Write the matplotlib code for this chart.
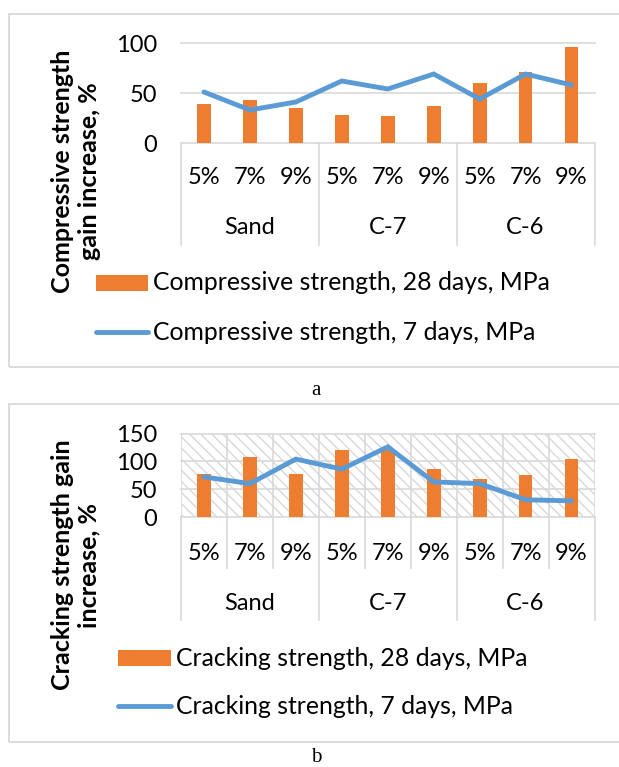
import matplotlib
matplotlib.use('Agg')
import matplotlib.pyplot as plt
from matplotlib.patches import Rectangle
from matplotlib.lines import Line2D

# data
pct_labels = ["5%", "7%", "9%", "5%", "7%", "9%", "5%", "7%", "9%"]
groups = ["Sand", "C-7", "C-6"]

comp_28 = [39, 43, 35, 28, 27, 37, 60, 71, 96]
comp_7 = [51, 33, 41, 62, 54, 69, 44, 69, 58]

crack_28 = [78, 107, 77, 120, 120, 87, 69, 76, 104]
crack_7 = [72, 60, 104, 86, 126, 63, 60, 31, 29]

W, H = 619, 767
ORANGE = "#ED7D31"
BLUE = "#5B9BD5"
GRID = "#d9d9d9"
FONT = "Lato"

plt.rcParams['font.family'] = [FONT, 'DejaVu Sans']

fig = plt.figure(figsize=(W / 100, H / 100), dpi=100)


def box(left, top, right, bottom):
    return [left / W, 1 - bottom / H, (right - left) / W, (bottom - top) / H]


def yfrac(py, top, bottom):
    return (bottom - py) / (bottom - top)


def panel(top, bottom, bars, line, ymax, yticks, hatched,
          pct_y, minor_y, grp_y, sep_y, ylabel, ylab_y,
          frame, leg_y, leg_x, bar_name, line_name):
    left, right = 181, 594.5
    ax = fig.add_axes(box(left, top, right, bottom))
    x = list(range(len(bars)))
    ax.set_xlim(-0.5, 8.5)
    ax.set_ylim(0, ymax)
    for s in ax.spines.values():
        s.set_visible(False)
    ax.set_xticks([])
    ax.set_yticks(yticks)
    ax.set_yticklabels([str(v) for v in yticks])
    ax.tick_params(axis='y', length=0, pad=17, labelsize=17)
    ax.set_facecolor('none')

    if hatched:
        ax.add_patch(Rectangle((0, 0), 1, 1, transform=ax.transAxes,
                               facecolor='white', edgecolor='#d8d8d8',
                               linewidth=0, hatch='\\\\\\', zorder=0))
        for xv in [i - 0.5 for i in range(10)]:
            ax.axvline(xv, color=GRID, lw=1.2, zorder=1)
    for yv in yticks:
        ax.axhline(yv, color=GRID, lw=1.2, zorder=1, clip_on=False)

    ax.bar(x, bars, width=0.3, color=ORANGE, zorder=2)
    ax.plot(x, line, color=BLUE, lw=3.5, solid_capstyle='round',
            solid_joinstyle='miter', zorder=3)

    tr = ax.get_xaxis_transform()
    for i, lab in enumerate(pct_labels):
        ax.text(i, yfrac(pct_y, top, bottom), lab, transform=tr,
                ha='center', va='center', fontsize=17)
    for g, lab in enumerate(groups):
        ax.text(3 * g + 1, yfrac(grp_y, top, bottom), lab, transform=tr,
                ha='center', va='center', fontsize=17)
    for xv in [-0.5, 2.5, 5.5, 8.5]:
        ax.plot([xv, xv], [0, yfrac(sep_y, top, bottom)], transform=tr,
                color=GRID, lw=1.2, clip_on=False)
    if minor_y is not None:
        for xv in [0.5, 1.5, 3.5, 4.5, 6.5, 7.5]:
            ax.plot([xv, xv], [0, yfrac(minor_y, top, bottom)], transform=tr,
                    color=GRID, lw=1.2, clip_on=False)

    fig.text(76 / W, 1 - ylab_y / H, ylabel, rotation=90, ha='center',
             va='center', fontweight='bold', fontsize=18,
             multialignment='center', linespacing=1.2)

    # frame around the chart
    fig.patches.append(Rectangle((9 / W, 1 - frame[1] / H),
                                 (650 - 9) / W, (frame[1] - frame[0]) / H,
                                 transform=fig.transFigure, fill=False,
                                 edgecolor=GRID, lw=1.3))

    # legend
    x0, x1 = leg_x
    fig.patches.append(Rectangle((x0 / W, 1 - (leg_y[0] + 8) / H),
                                 (x1 - x0) / W, 16 / H,
                                 transform=fig.transFigure,
                                 facecolor=ORANGE, edgecolor='none'))
    fig.lines.append(Line2D([x0 / W, x1 / W], [1 - leg_y[1] / H] * 2,
                            transform=fig.transFigure, color=BLUE, lw=3.5,
                            solid_capstyle='round'))
    fig.text((x1 + 5) / W, 1 - leg_y[0] / H, bar_name, ha='left',
             va='center', fontsize=17.8)
    fig.text((x1 + 5) / W, 1 - leg_y[1] / H, line_name, ha='left',
             va='center', fontsize=17.8)
    return ax


panel(43, 143, comp_28, comp_7, 100, [0, 50, 100], False,
      178, None, 228, 245,
      "Compressive strength\ngain increase, %", 171,
      (14, 367), (283, 332), (96, 148),
      "Compressive strength, 28 days, MPa",
      "Compressive strength, 7 days, MPa")

panel(433.5, 517, crack_28, crack_7, 150, [0, 50, 100, 150], True,
      553, 568, 603, 620,
      "Cracking strength gain\nincrease, %", 565,
      (404, 742), (658, 706), (118, 170.5),
      "Cracking strength, 28 days, MPa",
      "Cracking strength, 7 days, MPa")

fig.text(316 / W, 1 - 391 / H, "a", ha='center', va='center',
         family='Liberation Serif', fontsize=15)
fig.text(316 / W, 1 - 757 / H, "b", ha='center', va='center',
         family='Liberation Serif', fontsize=15)

fig.savefig("out.png", dpi=100)
